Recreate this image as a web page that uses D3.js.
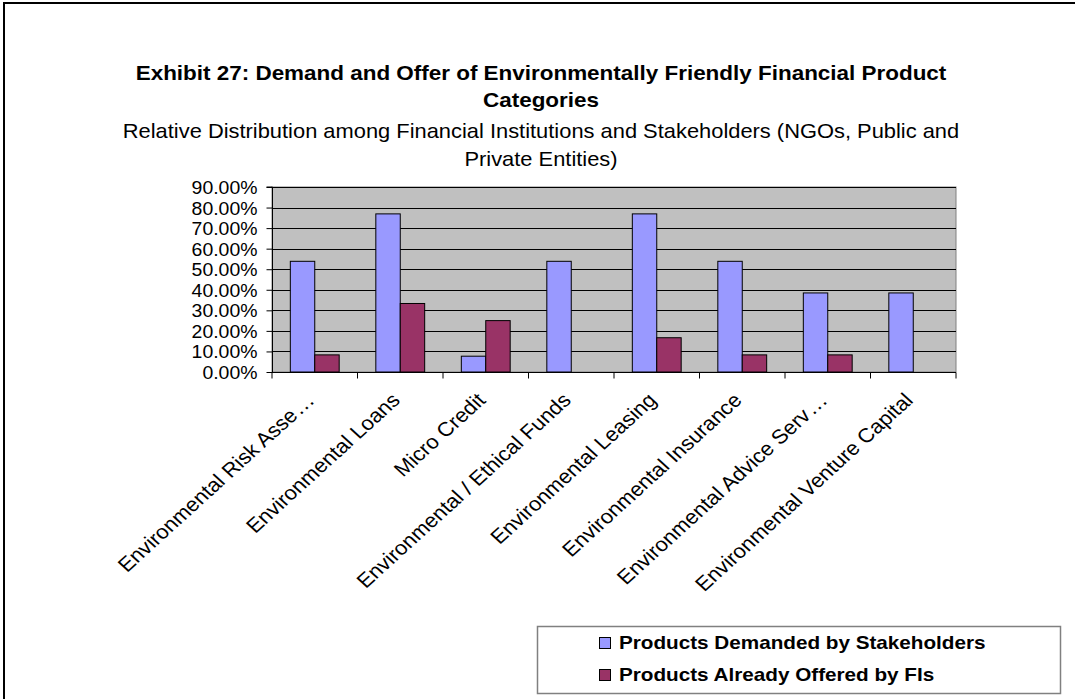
<!DOCTYPE html>
<html><head><meta charset="utf-8">
<script src="https://cdn.jsdelivr.net/npm/d3@7"></script>
<style>html,body{margin:0;padding:0;background:#fff;overflow:hidden}svg{display:block}text{font-family:"Liberation Sans",Arial,sans-serif;fill:#000}</style>
</head><body>
<svg id="c" width="1075" height="699"></svg>
<script>
const categories = ["Environmental Risk Asse...","Environmental Loans","Micro Credit","Environmental / Ethical Funds","Environmental Leasing","Environmental Insurance","Environmental Advice Serv...","Environmental Venture Capital"];
const demanded = [53.85, 76.92, 7.69, 53.85, 76.92, 53.85, 38.46, 38.46];
const offered = [8.33, 33.33, 25.0, 0, 16.67, 8.33, 8.33, 0];
const seriesNames = ["Products Demanded by Stakeholders","Products Already Offered by FIs"];
const yTicks = [0,10,20,30,40,50,60,70,80,90];
const titleLines = ["Exhibit 27: Demand and Offer of Environmentally Friendly Financial Product","Categories"];
const subtitleLines = ["Relative Distribution among Financial Institutions and Stakeholders (NGOs, Public and","Private Entities)"];
const colors = ["#9999FF","#993366"];

const svg = d3.select("#c");
svg.append("rect").attr("x",0).attr("y",0).attr("width",1075).attr("height",699).attr("fill","#fff");
svg.append("path").attr("d","M4,710V3H1090").attr("fill","none").attr("stroke","#000").attr("stroke-width",2);

const L=272,R=956,T=187,B=372;
const x = d3.scaleBand().domain(categories).range([L,R]).paddingInner(0).paddingOuter(0);
const y = d3.scaleLinear().domain([0,90]).range([B,T]);
const bw = x.bandwidth()/3.5;

svg.append("rect").attr("x",L).attr("y",T).attr("width",R-L).attr("height",B-T).attr("fill","#C0C0C0").attr("stroke","#808080").attr("stroke-width",1);
svg.append("g").selectAll("line").data(yTicks.slice(1)).join("line")
  .attr("x1",L).attr("x2",R).attr("y1",d=>Math.round(y(d))+0.5).attr("y2",d=>Math.round(y(d))+0.5).attr("stroke","#000").attr("stroke-width",1);

const series=[demanded,offered];
series.forEach((vals,si)=>{
  svg.append("g").selectAll("rect").data(vals.map((v,i)=>({v,c:categories[i]})).filter(d=>d.v>0)).join("rect")
    .attr("x",d=>x(d.c)+bw*0.75+si*bw).attr("width",bw)
    .attr("y",d=>y(d.v)).attr("height",d=>B-y(d.v))
    .attr("fill",colors[si]).attr("stroke","#000").attr("stroke-width",1);
});

// y axis
const ya = svg.append("g").attr("transform",`translate(${L+0.5},0)`).call(d3.axisLeft(y).tickValues(yTicks).tickSize(6).tickFormat(d=>d.toFixed(2)+"%"));
ya.select(".domain").attr("stroke","#000").attr("d",`M-6,${T}H0V${B}`);
ya.selectAll(".tick line").attr("stroke","#000");
ya.selectAll(".tick text").attr("font-size",18).attr("font-family","Liberation Sans, Arial")
  .attr("x",0).attr("dy","0.36em").attr("transform","translate(-15,0) scale(1.08,1)");

// x axis
const xa = svg.append("g").attr("transform",`translate(0,${B+0.5})`);
xa.append("line").attr("x1",L).attr("x2",R).attr("stroke","#000");
xa.selectAll("line.t").data(categories.concat(["end"])).join("line").attr("class","t")
  .attr("x1",(d,i)=>L+i*x.bandwidth()).attr("x2",(d,i)=>L+i*x.bandwidth()).attr("y1",0).attr("y2",6).attr("stroke","#000");
const xt = xa.selectAll("text").data(categories).join("text")
  .attr("transform",d=>`translate(${x(d)+x.bandwidth()/2+1},${29}) scale(1.1,1) rotate(-45)`)
  .attr("text-anchor","end").attr("font-size",20);
xt.each(function(d){
  const t=d3.select(this);
  if(d.endsWith("...")){
    t.append("tspan").text(d.slice(0,-3));
    t.append("tspan").attr("dx",2).attr("letter-spacing",1).text("...");
  } else t.text(d);
});

// titles
svg.append("g").selectAll("text").data(titleLines).join("text")
  .attr("transform",(d,i)=>`translate(541,${80+i*27}) scale(1.123,1)`).attr("text-anchor","middle").attr("font-weight","bold").attr("font-size",20).text(d=>d);
svg.append("g").selectAll("text").data(subtitleLines).join("text")
  .attr("transform",(d,i)=>`translate(541,${138+i*28}) scale(1.094,1)`).attr("text-anchor","middle").attr("font-size",20).text(d=>d);

// legend
svg.append("rect").attr("x",537.5).attr("y",626.5).attr("width",523).attr("height",67).attr("fill","#fff").attr("stroke","#808080").attr("stroke-width",1.5);
const lg = svg.append("g").selectAll("g").data(seriesNames).join("g").attr("transform",(d,i)=>`translate(599,${643+i*32})`);
lg.append("rect").attr("x",0.5).attr("y",-5.5).attr("width",11).attr("height",11).attr("fill",(d,i)=>colors[i]).attr("stroke","#000");
lg.append("text").attr("transform","translate(20,0) scale(1.15,1)").attr("dy","0.35em").attr("font-weight","bold").attr("font-size",18).text(d=>d);
</script>
</body></html>
